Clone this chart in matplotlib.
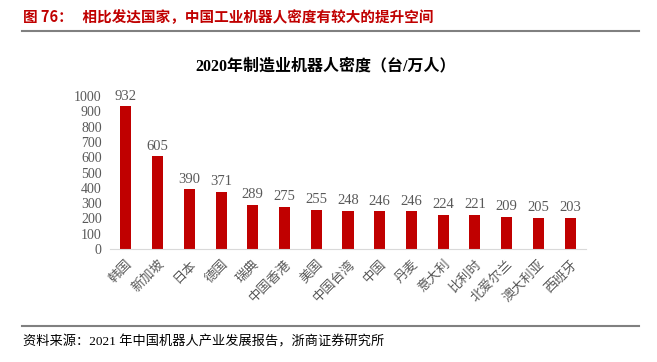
import matplotlib
matplotlib.use("Agg")
import matplotlib.pyplot as plt
from matplotlib.lines import Line2D

# data
countries = ["韩国", "新加坡", "日本", "德国", "瑞典", "中国香港", "美国", "中国台湾",
             "中国", "丹麦", "意大利", "比利时", "北爱尔兰", "澳大利亚", "西班牙"]
density = [932, 605, 390, 371, 289, 275, 255, 248, 246, 246, 224, 221, 209, 205, 203]

heading = "图 76：   相比发达国家，中国工业机器人密度有较大的提升空间"
chart_title = "2020年制造业机器人密度（台/万人）"
source = "资料来源：2021 年中国机器人产业发展报告，浙商证券研究所"

serif = ["Liberation Serif", "Noto Sans CJK SC"]
cjk = ["Noto Sans CJK SC", "DejaVu Sans"]
red = "#C00000"
grey = "#595959"

W, H = 657, 362
fig = plt.figure(figsize=(W / 100, H / 100), dpi=100)
ax = fig.add_axes([110 / W, 1 - 249 / H, 476 / W, 153 / H])

x = range(len(countries))
ax.bar(x, density, width=0.35, color=red)
for i, v in zip(x, density):
    ax.text(i, v + 25, str(v), ha="center", va="bottom", fontsize=10.5,
            color=grey, family=serif, clip_on=False)

ax.set_xlim(-0.5, len(countries) - 0.5)
ax.set_ylim(0, 1000)
ax.set_yticks(range(0, 1001, 100))
ax.tick_params(length=0, labelsize=10, colors=grey, pad=6)
for lab in ax.get_yticklabels():
    lab.set_family(serif)
ax.set_xticks(list(x))
ax.set_xticklabels(countries, rotation=45, ha="right", rotation_mode="anchor",
                   family=cjk, fontsize=9.5, color=grey)
for s in ["top", "right", "left"]:
    ax.spines[s].set_visible(False)
ax.spines["bottom"].set_color("#D9D9D9")

# heading, rules, title and source
fig.text(23 / W, 1 - 17 / H, heading, color=red, fontsize=10.5, fontweight="bold",
         family=cjk, va="center", ha="left")
fig.add_artist(Line2D([22 / W, 639 / W], [1 - 31 / H, 1 - 31 / H],
                      color="#808080", lw=1.5))
fig.text(326 / W, 1 - 66 / H, chart_title, fontsize=11.5, fontweight="bold",
         family=serif, ha="center", va="center", color="black")
fig.add_artist(Line2D([22 / W, 639 / W], [1 - 326 / H, 1 - 326 / H],
                      color="#808080", lw=1.5))
fig.text(23 / W, 1 - 342 / H, source, fontsize=9.5, family=serif,
         ha="left", va="center", color="black")

fig.savefig("out.png", dpi=100, facecolor="white")
